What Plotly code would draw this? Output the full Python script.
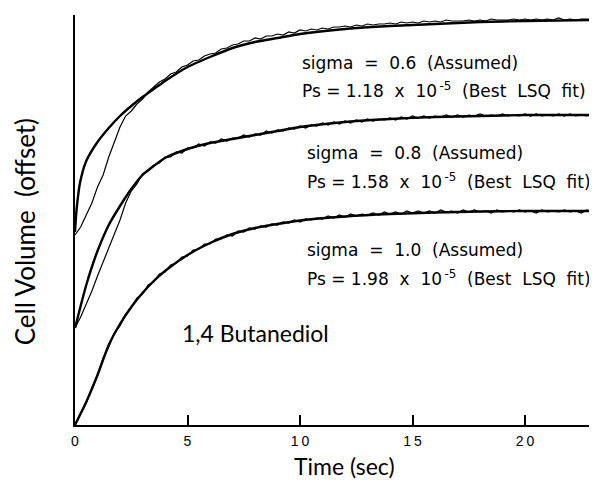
import plotly.graph_objects as go

# ---- data (time in sec, volume in arbitrary offset units) ----
t_data = [i * 0.25 for i in range(93)]  # 0 .. 23 s sampling of the recorded traces

data_s06 = [190, 198, 210, 222, 238, 250, 268, 284,
            298, 309, 314, 321, 326, 333, 338, 343,
            346, 351, 353, 358, 360, 364, 365, 369,
            371, 372, 376, 377, 380, 381, 384, 384,
            387, 386, 389, 389, 391, 390, 393, 392,
            395, 394, 396, 395, 397, 396, 398, 398,
            399, 398, 400, 399, 401, 400, 401, 401,
            402, 401, 403, 402, 403, 402, 404, 403,
            404, 403, 405, 404, 404, 404, 405, 404,
            405, 404, 406, 405, 405, 405, 406, 405,
            406, 405, 406, 405, 406, 405, 407, 405,
            406, 405, 406, 406, 406]

data_s08 = [97, 108, 121, 134, 149, 163, 178, 191,
            205, 222, 234, 241, 251, 254, 260, 262,
            268, 268, 273, 272, 277, 277, 281, 279,
            283, 282, 286, 284, 287, 287, 290, 288,
            291, 290, 294, 292, 295, 294, 297, 296,
            299, 297, 300, 299, 302, 300, 303, 301,
            304, 302, 305, 303, 306, 304, 306, 305,
            307, 305, 308, 306, 309, 307, 309, 307,
            309, 308, 310, 308, 310, 308, 310, 309,
            311, 309, 310, 309, 311, 309, 310, 309,
            311, 309, 311, 309, 310, 309, 311, 309,
            311, 309, 310, 309, 311]

data_s10 = [0, 12, 22, 37, 49, 67, 78, 92,
            99, 110, 117, 127, 131, 140, 143, 151,
            153, 160, 162, 168, 169, 175, 176, 181,
            181, 186, 186, 190, 189, 194, 193, 197,
            196, 199, 198, 201, 200, 203, 202, 205,
            203, 206, 205, 207, 206, 209, 207, 210,
            208, 211, 209, 211, 210, 212, 210, 213,
            211, 213, 211, 214, 212, 214, 212, 214,
            212, 215, 213, 214, 212, 215, 213, 215,
            213, 214, 212, 215, 213, 214, 213, 215,
            213, 214, 212, 215, 213, 214, 213, 215,
            213, 214, 212, 215, 213]

t_fit06 = [0, 0.05, 0.1, 0.22, 0.5, 1.0, 1.5, 2.0, 2.5, 3.0, 3.5, 4.0, 5.0, 6.0, 7.0, 8.0,
           9.0, 10, 12, 14, 16, 18, 20, 23.2]
fit_s06 = [193, 210, 222, 242, 264, 283, 297, 309, 319, 328, 336, 344, 358, 368, 377, 383,
           387, 391, 396, 399, 401, 403, 404, 405]

t_fit08 = [0, 0.25, 0.5, 0.75, 1, 1.5, 2, 2.5, 3, 3.5, 4, 5, 6, 7, 8, 9, 10, 12, 14, 16,
           18, 20, 23.2]
fit_s08 = [97, 119, 140, 158, 174, 200, 219, 236, 250, 259, 267, 276, 282, 286, 290, 294,
           298, 303, 306, 308, 309, 310, 310]

t_fit10 = [0, 0.5, 1, 1.5, 2, 2.5, 3, 3.5, 4, 5, 6, 7, 8, 9, 10, 12, 14, 16, 18, 20, 23.2]
fit_s10 = [0, 23, 50, 80, 101, 118, 132, 144, 154, 170, 182, 191, 197, 201, 204.5, 208.5,
           211, 212.5, 213.5, 214, 214]

x_tickvals = [0, 5, 10, 15, 20]
x_ticktext = ["0", "5", "1\u20090", "1\u20095", "2\u20090"]

NB = "\u00a0"


def sig_line(v):
    return "sigma" + NB * 2 + "=" + NB * 2 + v + NB * 2 + "(Assumed)"


def ps_line(v):
    return ("Ps" + NB + "=" + NB + v + NB * 2 + "x" + NB * 2 + "10<sup>\u2009-5</sup>"
            + NB * 2 + "(Best" + NB * 2 + "LSQ" + NB * 2 + "fit)")


labels = [
    (10.0, 362, sig_line("0.6")),
    (10.0, 335, ps_line("1.18")),
    (10.22, 272, sig_line("0.8")),
    (10.22, 244, ps_line("1.58")),
    (10.22, 175, sig_line("1.0")),
    (10.22, 147, ps_line("1.98")),
]

fig = go.Figure()

for y in (data_s06, data_s08, data_s10):
    fig.add_trace(go.Scatter(x=t_data, y=y, mode="lines",
                             line=dict(color="black", width=1.2), showlegend=False))

for tx, ty in ((t_fit06, fit_s06), (t_fit08, fit_s08), (t_fit10, fit_s10)):
    fig.add_trace(go.Scatter(x=tx, y=ty, mode="lines",
                             line=dict(color="black", width=2.4, shape="spline", smoothing=0.6),
                             showlegend=False))

annotations = []
for x, y, txt in labels:
    annotations.append(dict(x=x, y=y, xref="x", yref="y", text=txt, showarrow=False,
                            xanchor="left", yanchor="middle",
                            font=dict(family="DejaVu Sans", size=17, color="black")))

annotations.append(dict(x=4.67, y=92, xref="x", yref="y", text="1,4 Butanediol",
                        showarrow=False, xanchor="left", yanchor="middle",
                        font=dict(family="Lato", size=23, color="black")))
annotations.append(dict(x=0, y=0.47, xref="paper", yref="paper",
                        xshift=-50, text="Cell Volume  (offset)", textangle=-90,
                        showarrow=False, xanchor="center", yanchor="middle",
                        font=dict(family="Lato", size=26, color="black")))
annotations.append(dict(x=0.517, y=0, xref="paper", yref="paper", yshift=-41,
                        text="Time (sec)", showarrow=False,
                        xanchor="center", yanchor="middle",
                        font=dict(family="Lato", size=23, color="black")))

# the page body has an 8px default margin, so the figure is sized to fit the window
fig.update_layout(
    width=589, height=473,
    margin=dict(l=67, r=0, t=7, b=56),
    paper_bgcolor="white", plot_bgcolor="white",
    annotations=annotations,
    xaxis=dict(range=[0, 23.2], showline=True, linecolor="black", linewidth=2,
               ticks="inside", ticklen=10, tickwidth=1.5, tickcolor="black",
               tickvals=x_tickvals, ticktext=x_ticktext, ticklabelstandoff=2,
               tickfont=dict(family="Liberation Sans", size=14, color="black"),
               showgrid=False, zeroline=False),
    yaxis=dict(range=[0, 410], showline=True, linecolor="black", linewidth=2,
               showticklabels=False, ticks="", showgrid=False, zeroline=False),
)

fig.write_html("out.html")
